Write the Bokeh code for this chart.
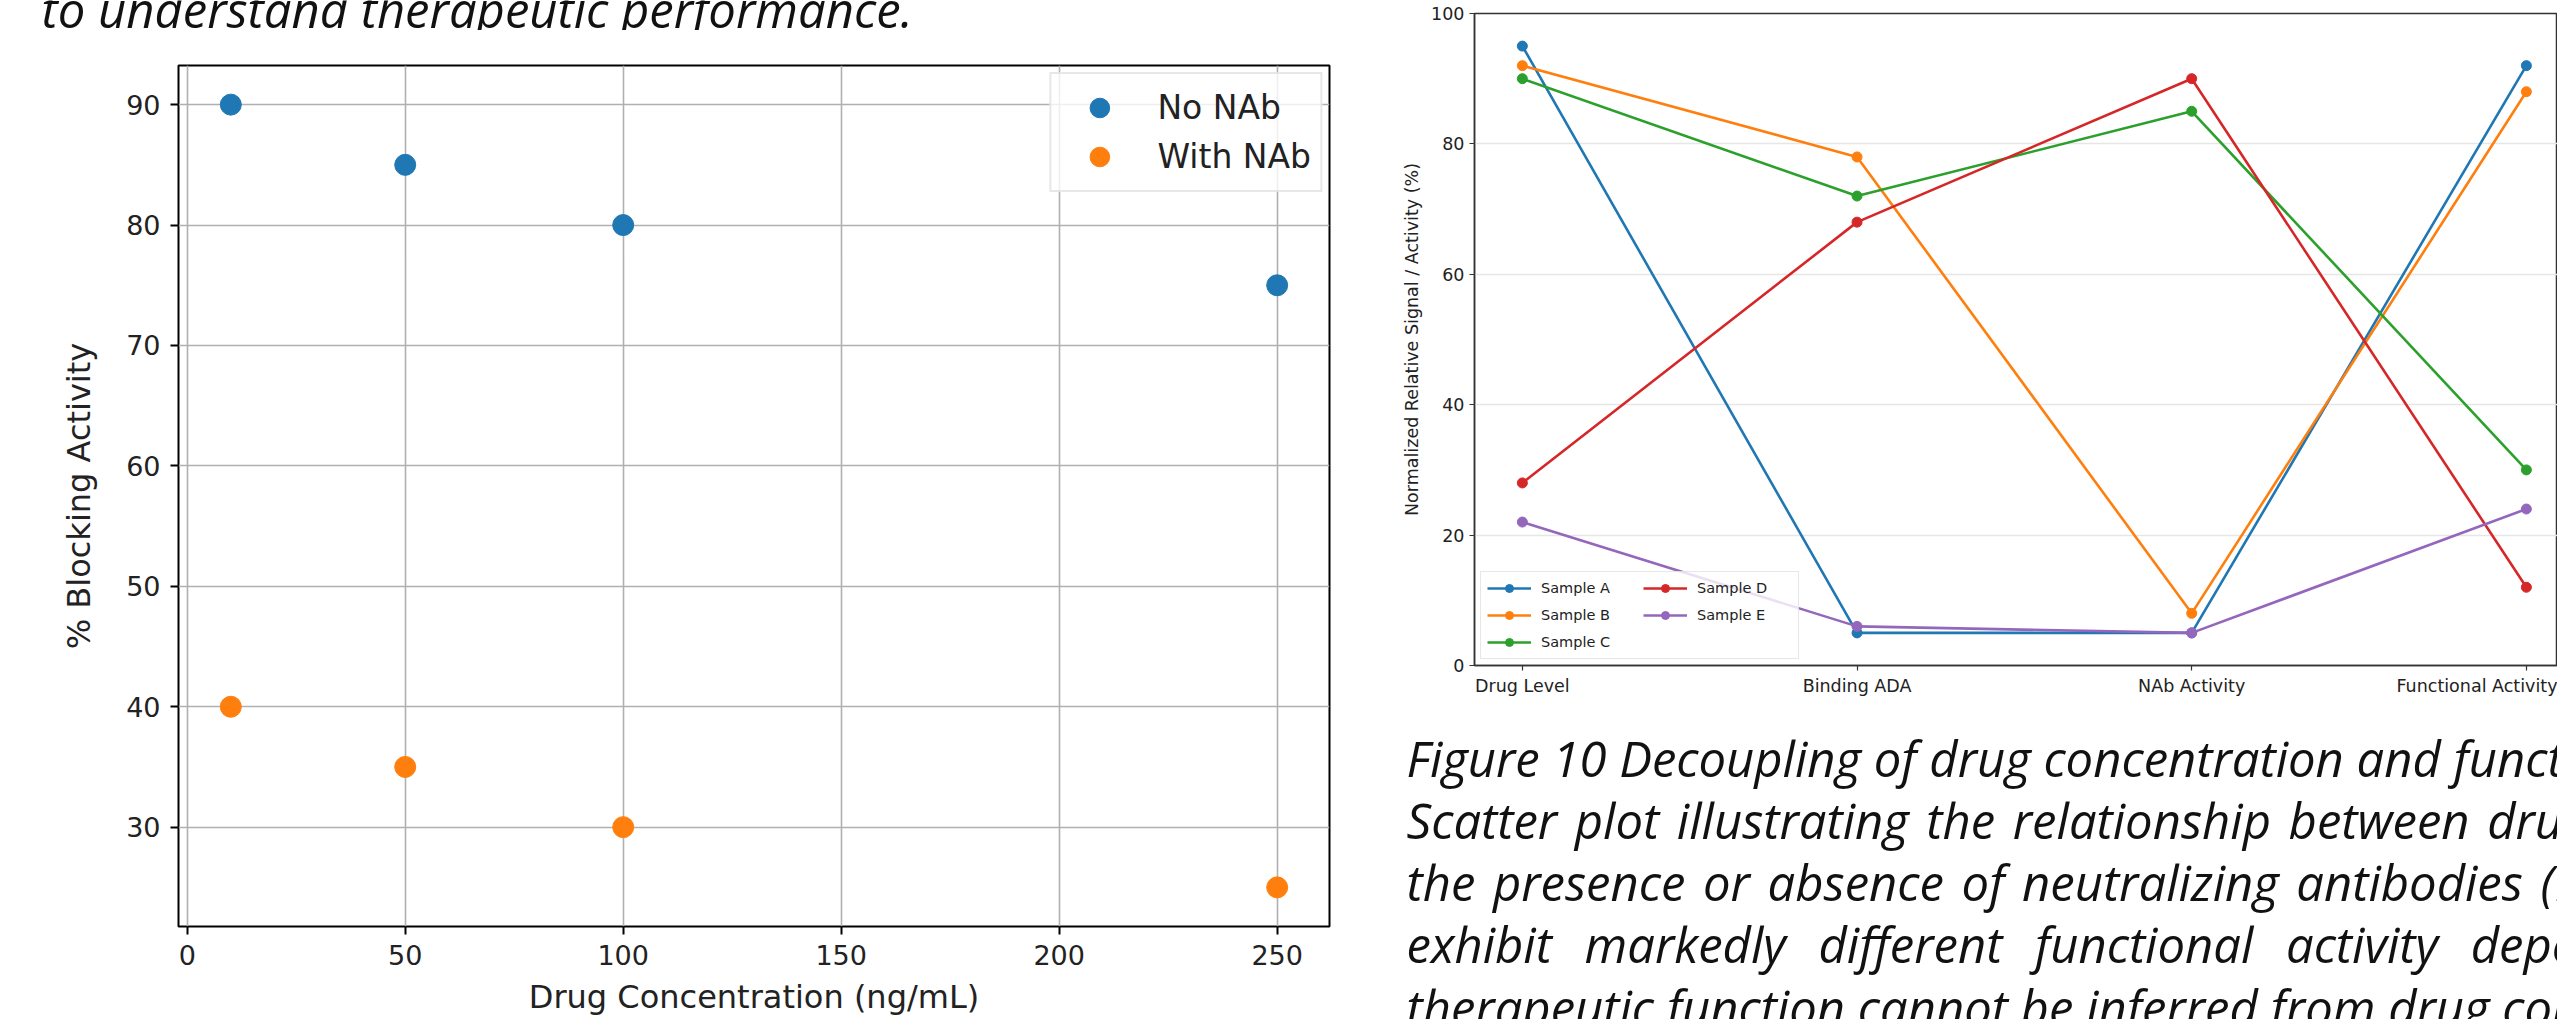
from bokeh.plotting import figure
from bokeh.layouts import row, column
from bokeh.models import Range1d, FixedTicker
from bokeh.embed import file_html
from bokeh.resources import INLINE
from bokeh.core.properties import value

# ---------------- data ----------------
conc = [10, 50, 100, 250]
no_nab = [90, 85, 80, 75]
with_nab = [40, 35, 30, 25]
left_xticks = [0, 50, 100, 150, 200, 250]
left_yticks = [30, 40, 50, 60, 70, 80, 90]

categories = ["Drug Level", "Binding ADA", "NAb Activity", "Functional Activity"]
sample_names = ["Sample A", "Sample B", "Sample C", "Sample D", "Sample E"]
sample_a = [95, 5, 5, 92]
sample_b = [92, 78, 8, 88]
sample_c = [90, 72, 85, 30]
sample_d = [28, 68, 90, 12]
sample_e = [22, 6, 5, 24]
right_yticks = [0, 20, 40, 60, 80, 100]

top_text = "to understand therapeutic performance."
caption_lines = [
    "Figure 10 Decoupling of drug concentration and functional activity.",
    " \u200a".join("Scatter plot illustrating the relationship between drug concentration and".split(" ")),
    " \u200a".join("the presence or absence of neutralizing antibodies (NAbs).".split(" ")),
    "\u2002\u2009".join("exhibit markedly different functional activity depending".split(" ")),
    "therapeutic function cannot be inferred from drug concentration alone.",
]

TAB = ["#1f77b4", "#ff7f0e", "#2ca02c", "#d62728", "#9467bd"]
CHART_FONT = "DejaVu Sans"
TEXT_FONT = "Open Sans"
TEXT_SIZE = "49px"

TOTAL_W, TOTAL_H = 2557, 1019
LEFT_W = 1380
RIGHT_W = TOTAL_W - LEFT_W


def no_align(f):
    try:
        f.frame_align = False
    except Exception:
        pass


def text_canvas(w, h, xs, ys, texts):
    f = figure(width=w, height=h, x_range=Range1d(0, w), y_range=Range1d(h, 0),
               x_axis_location=None, y_axis_location=None,
               toolbar_location=None, output_backend="svg", min_border=0)
    no_align(f)
    f.grid.visible = False
    f.outline_line_color = None
    f.text(x=xs, y=ys, text=texts, text_font=value(TEXT_FONT),
           text_font_style="italic", text_font_size=TEXT_SIZE, text_color="#111111",
           text_baseline="alphabetic", text_align="left")
    return f


# ---------------- top text ----------------
TOP_H = 30
top = text_canvas(LEFT_W, TOP_H, [41], [8], [top_text])

# ---------------- left scatter ----------------
pL = figure(width=LEFT_W, height=TOTAL_H - TOP_H,
            x_range=Range1d(-2, 262), y_range=Range1d(21.75, 93.25),
            toolbar_location=None, output_backend="svg",
            min_border_left=178, min_border_right=51,
            min_border_top=65 - TOP_H, min_border_bottom=TOTAL_H - 926)
no_align(pL)
pL.scatter(conc, no_nab, size=21, color=TAB[0], legend_label="No NAb")
pL.scatter(conc, with_nab, size=21, color=TAB[1], legend_label="With NAb")
pL.xaxis.ticker = FixedTicker(ticks=left_xticks)
pL.yaxis.ticker = FixedTicker(ticks=left_yticks)
pL.xgrid.ticker = FixedTicker(ticks=left_xticks)
pL.ygrid.ticker = FixedTicker(ticks=left_yticks)
pL.grid.grid_line_color = "#b0b0b0"
pL.grid.grid_line_width = 1.6
pL.outline_line_color = "black"
pL.outline_line_width = 2
pL.axis.axis_line_color = None
pL.axis.major_tick_out = 8
pL.axis.major_tick_in = 0
pL.axis.major_tick_line_width = 2
pL.axis.major_tick_line_color = "black"
pL.axis.minor_tick_line_color = None
pL.axis.major_label_text_font = CHART_FONT
pL.axis.major_label_text_font_size = "27px"
pL.axis.major_label_text_color = "#222222"
pL.xaxis.major_label_standoff = 10
pL.yaxis.major_label_standoff = 10
pL.axis.axis_label_text_font = CHART_FONT
pL.axis.axis_label_text_font_size = "32px"
pL.axis.axis_label_text_font_style = "normal"
pL.axis.axis_label_text_color = "#222222"
pL.yaxis.axis_label = "% Blocking Activity"
pL.yaxis.axis_label_standoff = 25
pL.xaxis.axis_label = "Drug Concentration (ng/mL)"
pL.xaxis.axis_label_standoff = 10
lg = pL.legend[0]
lg.location = "top_right"
lg.margin = 7
lg.padding = 9
lg.spacing = 0
lg.glyph_width = 78
lg.glyph_height = 49
lg.label_height = 49
lg.label_standoff = 19
lg.label_text_font = CHART_FONT
lg.label_text_font_size = "33px"
lg.label_text_color = "#222222"
lg.border_line_color = "#d0d0d0"
lg.border_line_width = 2
lg.background_fill_alpha = 0.8

# ---------------- right line chart ----------------
RIGHT_TOP_H = 700
xs = list(range(len(categories)))
pR = figure(width=RIGHT_W, height=RIGHT_TOP_H,
            x_range=Range1d(-0.143, 3.093), y_range=Range1d(0, 100),
            toolbar_location=None, output_backend="svg",
            min_border_left=94, min_border_right=0,
            min_border_top=13, min_border_bottom=RIGHT_TOP_H - 665)
no_align(pR)
for name, vals, col in zip(sample_names, [sample_a, sample_b, sample_c, sample_d, sample_e], TAB):
    pR.line(xs, vals, line_width=2.6, color=col, legend_label=name)
    pR.scatter(xs, vals, size=10, color=col, legend_label=name)
pR.xaxis.ticker = FixedTicker(ticks=xs)
pR.xaxis.major_label_overrides = {i: c for i, c in zip(xs, categories)}
pR.yaxis.ticker = FixedTicker(ticks=right_yticks)
pR.xgrid.visible = False
pR.ygrid.ticker = FixedTicker(ticks=right_yticks)
pR.ygrid.grid_line_color = "#e6e6e6"
pR.ygrid.grid_line_width = 1.5
pR.outline_line_color = "#333333"
pR.outline_line_width = 1.5
pR.axis.axis_line_color = "#333333"
pR.axis.axis_line_width = 1.5
pR.axis.major_tick_out = 5
pR.axis.major_tick_in = 0
pR.axis.major_tick_line_color = "#333333"
pR.axis.major_tick_line_width = 1.2
pR.axis.minor_tick_line_color = None
pR.axis.major_label_text_font = CHART_FONT
pR.axis.major_label_text_font_size = "17.5px"
pR.axis.major_label_text_color = "#222222"
pR.axis.major_label_standoff = 5
pR.yaxis.axis_label = "Normalized Relative Signal / Activity (%)"
pR.yaxis.axis_label_text_font = CHART_FONT
pR.yaxis.axis_label_text_font_size = "17.5px"
pR.yaxis.axis_label_text_font_style = "normal"
pR.yaxis.axis_label_text_color = "#222222"
pR.yaxis.axis_label_standoff = 6
lr = pR.legend[0]
lr.location = "bottom_left"
lr.ncols = 2
lr.margin = 6
lr.padding = 6
lr.spacing = 7
lr.glyph_width = 44
lr.glyph_height = 20
lr.label_height = 20
lr.label_width = 95
lr.label_standoff = 10
lr.label_text_font = CHART_FONT
lr.label_text_font_size = "14.5px"
lr.label_text_color = "#222222"
lr.border_line_color = "#d0d0d0"
lr.border_line_width = 1.5
lr.background_fill_alpha = 0.8

# ---------------- caption ----------------
CAP_H = TOTAL_H - RIGHT_TOP_H
cap = text_canvas(RIGHT_W, CAP_H, [26] * len(caption_lines),
                  [757 + 62.3 * i - RIGHT_TOP_H for i in range(len(caption_lines))],
                  caption_lines)

layout = row(column(top, pL), column(pR, cap))
open("out.html", "w").write(file_html(layout, INLINE))
